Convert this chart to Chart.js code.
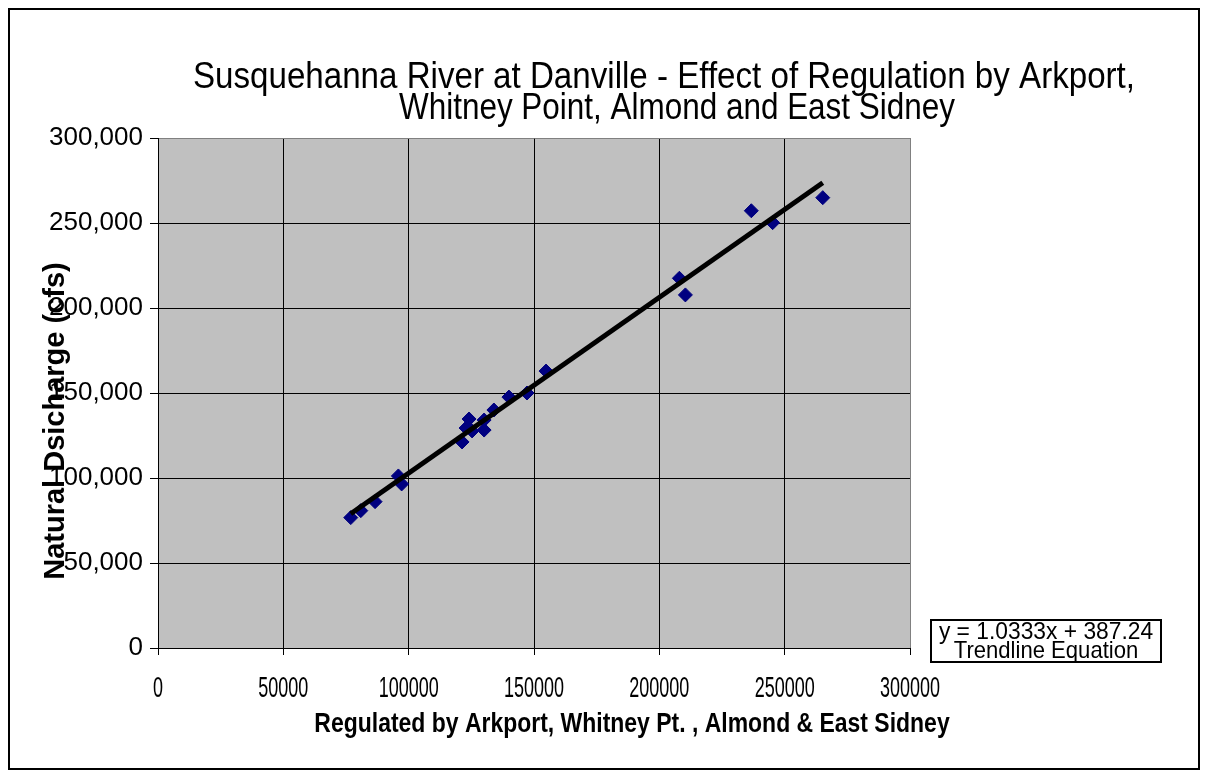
<!DOCTYPE html>
<html>
<head>
<meta charset="utf-8">
<script src="https://cdn.jsdelivr.net/npm/chart.js@4.4.1/dist/chart.umd.min.js"></script>
<style>
  html, body { margin: 0; padding: 0; background: #fff; }
  #wrap { width: 1209px; height: 778px; }
</style>
</head>
<body>
<div id="wrap"><canvas id="chart" width="1209" height="778"></canvas></div>
<script>
// chart text
const titleLines = ['Susquehanna River at Danville - Effect of Regulation by Arkport,',
                    'Whitney Point, Almond and East Sidney'];
const xTitle = 'Regulated by Arkport, Whitney Pt. , Almond & East Sidney';
const yTitle = 'Natural Dsicharge (cfs)';
const eqLines = ['y = 1.0333x + 387.24', 'Trendline Equation'];

// axes
const xMin = 0, xMax = 300000, xStep = 50000;
const yMin = 0, yMax = 300000, yStep = 50000;

const regulated = [76900, 80900, 86600, 95900, 97200, 121300, 122900, 124100, 125300, 130100,
                   130100, 134000, 140000, 147200, 154800, 208000, 210400, 236700, 245200, 265200];
const natural   = [76700, 80800, 86100, 101200, 96500, 121200, 129400, 134700, 127700, 128200,
                   134100, 140000, 147600, 150000, 162900, 217500, 207700, 257200, 250200, 264900];

// trendline ends as drawn
const trendX = [76900, 265200];
const trendY = [79000, 273700];

const FONT = '"Liberation Sans", Arial, sans-serif';

function narrowText(ctx, text, x, y, font, sx, rot) {
	ctx.save();
	ctx.font = font;
	ctx.fillStyle = '#000';
	ctx.textAlign = 'center';
	ctx.textBaseline = 'middle';
	ctx.translate(x, y);
	if (rot) ctx.rotate(rot);
	ctx.scale(sx, 1);
	ctx.fillText(text, 0, 0);
	ctx.restore();
}

function fitScale(ctx, text, font, width) {
	ctx.save();
	ctx.font = font;
	const w = ctx.measureText(text).width;
	ctx.restore();
	return width / w;
}

const decor = {
	id: 'decor',
	beforeDraw(chart) {
		const ctx = chart.ctx;
		const a = chart.chartArea;
		ctx.save();
		ctx.fillStyle = '#fff';
		ctx.fillRect(0, 0, chart.width, chart.height);
		ctx.fillStyle = '#c0c0c0';
		ctx.fillRect(a.left, a.top, a.right - a.left, a.bottom - a.top);
		ctx.restore();
	},
	afterDraw(chart) {
		const ctx = chart.ctx;
		const xs = chart.scales.x;

		// outer frame
		ctx.save();
		ctx.strokeStyle = '#000';
		ctx.lineWidth = 2;
		ctx.strokeRect(9, 9, 1190, 760);
		ctx.restore();

		// title
		const tf = '37px ' + FONT;
		narrowText(ctx, titleLines[0], 664, 78, tf, fitScale(ctx, titleLines[0], tf, 942));
		narrowText(ctx, titleLines[1], 677, 109, tf, fitScale(ctx, titleLines[1], tf, 556));

		// y axis title
		narrowText(ctx, yTitle, 56, 421, 'bold 29px ' + FONT, 1, -Math.PI / 2);

		// x tick labels
		xs.ticks.forEach(t => {
			narrowText(ctx, String(t.value), xs.getPixelForValue(t.value), 689, '29px ' + FONT, 0.62);
		});

		// x axis title
		narrowText(ctx, xTitle, 632, 724, 'bold 28px ' + FONT, 0.82);

		// trendline equation box
		ctx.save();
		ctx.fillStyle = '#fff';
		ctx.fillRect(931, 620, 230, 42);
		ctx.strokeStyle = '#000';
		ctx.lineWidth = 2;
		ctx.strokeRect(931, 620, 230, 42);
		ctx.restore();
		narrowText(ctx, eqLines[0], 1046, 632, '24px ' + FONT, 0.95);
		narrowText(ctx, eqLines[1], 1046, 651, '24px ' + FONT, 0.92);
	}
};

const points = regulated.map((x, i) => ({x: x, y: natural[i]}));
const trend = trendX.map((x, i) => ({x: x, y: trendY[i]}));

new Chart(document.getElementById('chart').getContext('2d'), {
	type: 'scatter',
	data: {
		datasets: [{
			type: 'line',
			data: trend,
			borderColor: '#000',
			borderWidth: 5,
			pointRadius: 0,
			fill: false
		}, {
			data: points,
			pointStyle: 'rectRot',
			pointRadius: 7,
			pointHoverRadius: 7,
			backgroundColor: '#000080',
			borderColor: '#000080',
			borderWidth: 1
		}]
	},
	options: {
		responsive: false,
		animation: false,
		devicePixelRatio: 1,
		layout: { padding: { left: 20, top: 138, right: 299, bottom: 0 } },
		plugins: {
			legend: { display: false },
			tooltip: { enabled: false }
		},
		scales: {
			x: {
				type: 'linear',
				min: xMin, max: xMax,
				ticks: { stepSize: xStep, display: false },
				grid: {
					color: c => (c.tick && c.tick.value === xMax) ? '#808080' : '#000',
					tickColor: '#000',
					tickLength: 7
				},
				border: { color: '#000', width: 1 },
				afterFit: s => { s.height = 130; }
			},
			y: {
				type: 'linear',
				min: yMin, max: yMax,
				ticks: {
					stepSize: yStep,
					color: '#000',
					padding: 7,
					font: { family: FONT, size: 26 },
					callback: v => v.toLocaleString('en-US')
				},
				grid: {
					color: c => (c.tick && c.tick.value === yMax) ? '#808080' : '#000',
					tickColor: '#000',
					tickLength: 8
				},
				border: { color: '#000', width: 1 },
				afterFit: s => { s.width = 138; }
			}
		}
	},
	plugins: [decor]
});
</script>
</body>
</html>
